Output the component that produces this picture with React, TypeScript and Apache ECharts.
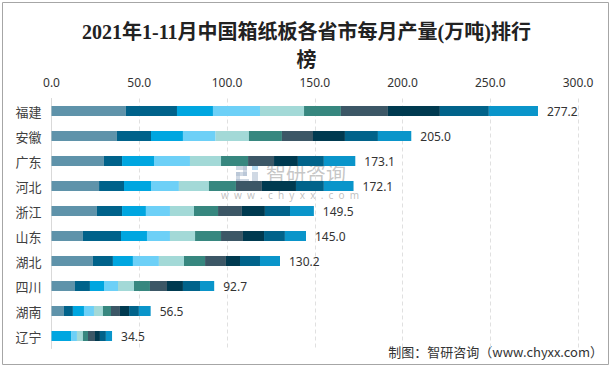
import React, { useEffect, useRef } from "react";
import * as echarts from "echarts";

const provinces = ["福建", "安徽", "广东", "河北", "浙江", "山东", "湖北", "四川", "湖南", "辽宁"];
const months = ["1-2月", "3月", "4月", "5月", "6月", "7月", "8月", "9月", "10月", "11月"];
const totals = [277.2, 205.0, 173.1, 172.1, 149.5, 145.0, 130.2, 92.7, 56.5, 34.5];

// values[monthIndex][provinceIndex]
const m12 = [42.4, 37.3, 29.9, 27.1, 25.9, 17.9, 23.6, 13.4, 7.1, 0];
const m3 = [29.1, 19.4, 10.3, 14.2, 14.3, 21.7, 11.4, 8.5, 5.1, 0];
const m4 = [20.5, 18.2, 18.2, 15.4, 13.6, 14.8, 11.4, 8.0, 6.3, 11.4];
const m5 = [26.8, 18.6, 20.5, 15.9, 13.7, 13.1, 14.8, 8.0, 5.7, 3.1];
const m6 = [25.1, 19.0, 17.7, 17.1, 13.7, 14.3, 14.3, 9.1, 5.1, 3.4];
const m7 = [21.0, 18.8, 15.4, 15.4, 13.7, 14.8, 12.0, 9.1, 4.6, 2.9];
const m8 = [26.8, 17.7, 14.8, 14.8, 13.6, 12.5, 11.9, 9.7, 5.1, 4.0];
const m9 = [29.6, 18.2, 13.6, 19.4, 13.1, 12.0, 8.0, 9.1, 5.2, 2.8];
const m10 = [27.9, 18.8, 14.8, 15.9, 14.3, 11.9, 11.4, 9.7, 5.6, 3.4];
const m11 = [28.0, 19.0, 17.9, 16.9, 13.6, 12.0, 11.4, 8.1, 6.7, 3.5];
const monthValues = [m12, m3, m4, m5, m6, m7, m8, m9, m10, m11];

const xTicks = [0, 50, 100, 150, 200, 250, 300];

const colors = [
  "#5F93AA",
  "#00628A",
  "#00A6E0",
  "#6DD0F7",
  "#A3D9D7",
  "#37877F",
  "#3C5766",
  "#003A50",
  "#01638A",
  "#0A95CA",
];

export default function App() {
  const ref = useRef<HTMLDivElement>(null);

  useEffect(() => {
    if (!ref.current) return;
    document.body.style.margin = "0";
    const chart = echarts.init(ref.current, null, { renderer: "svg" });
    const last = monthValues.length - 1;
    const series = monthValues.map((vals, i) => ({
      name: months[i],
      type: "bar",
      stack: "total",
      barWidth: 10,
      data: vals,
      itemStyle: { color: colors[i] },
      label:
        i === last
          ? {
              show: true,
              position: "right",
              distance: 9,
              color: "#333333",
              fontSize: 12,
              fontFamily: "'Noto Sans', 'Noto Sans CJK SC', sans-serif",
              formatter: (p: any) => totals[p.dataIndex].toFixed(1),
            }
          : { show: false },
    }));

    chart.setOption({
      animation: false,
      backgroundColor: "#ffffff",
      title: {
        text: "2021年1-11月中国箱纸板各省市每月产量(万吨)排行\n榜",
        left: "center",
        top: 13,
        textStyle: {
          fontSize: 20,
          fontWeight: "bold",
          color: "#222222",
          lineHeight: 28,
          fontFamily: "'Liberation Serif', 'Noto Sans CJK SC', serif",
        },
      },
      grid: { left: 51.5, right: 35, top: 98.5, bottom: 19.5, containLabel: false },
      xAxis: {
        type: "value",
        position: "top",
        min: xTicks[0],
        max: xTicks[xTicks.length - 1],
        interval: 50,
        axisLine: { show: false },
        axisTick: { show: false },
        axisLabel: {
          color: "#333333",
          fontSize: 12,
          margin: 10,
          fontFamily: "'Noto Sans', sans-serif",
          formatter: (v: number) => v.toFixed(1),
        },
        splitLine: { show: true, lineStyle: { color: "#e0e0e0", type: [4, 3], width: 1 } },
      },
      yAxis: {
        type: "category",
        data: provinces,
        inverse: true,
        axisLine: { show: true, lineStyle: { color: "#d9d9d9" } },
        axisTick: { show: false },
        axisLabel: {
          color: "#404040",
          fontSize: 13,
          margin: 10,
          fontFamily: "'Noto Sans CJK SC', sans-serif",
        },
      },
      series,
      graphic: [
        {
          type: "rect",
          shape: { x: 2.5, y: 2.5, width: 606, height: 362 },
          style: { fill: "none", stroke: "#a6a6a6", lineWidth: 1 },
          silent: true,
        },
        {
          type: "group",
          z: 100,
          silent: true,
          children: [
            { type: "rect", shape: { x: 236, y: 166, width: 11, height: 4 }, style: { fill: "rgba(170,185,205,0.55)" } },
            { type: "rect", shape: { x: 243, y: 166, width: 4, height: 10 }, style: { fill: "rgba(170,185,205,0.55)" } },
            { type: "rect", shape: { x: 236, y: 172, width: 11, height: 4 }, style: { fill: "rgba(170,185,205,0.55)" } },
            { type: "rect", shape: { x: 236, y: 172, width: 4, height: 10 }, style: { fill: "rgba(170,185,205,0.55)" } },
            { type: "rect", shape: { x: 236, y: 179, width: 13, height: 3 }, style: { fill: "rgba(170,185,205,0.55)" } },
            { type: "rect", shape: { x: 252, y: 166, width: 6, height: 4 }, style: { fill: "rgba(120,190,230,0.55)" } },
            { type: "rect", shape: { x: 252, y: 172, width: 6, height: 10 }, style: { fill: "rgba(170,185,205,0.55)" } },
            {
              type: "text",
              x: 266,
              y: 172,
              style: {
                text: "智研咨询",
                fontSize: 20,
                lineHeight: 20,
                fill: "rgba(150,150,150,0.55)",
                fontFamily: "'Noto Sans CJK SC', sans-serif",
                verticalAlign: "middle",
                align: "left",
              },
            },
            {
              type: "text",
              x: 290,
              y: 195,
              style: {
                text: "w  w  w  .  c  h  y  x  x  .  c  o  m",
                fontSize: 10,
                lineHeight: 10,
                fill: "rgba(150,150,150,0.6)",
                fontFamily: "'Noto Sans', sans-serif",
                verticalAlign: "middle",
                align: "center",
              },
            },
          ],
        },
        {
          type: "text",
          right: 10,
          top: 345,
          style: {
            text: "制图：智研咨询（www.chyxx.com）",
            fontSize: 13,
            fill: "#333333",
            fontFamily: "'Noto Sans CJK SC', sans-serif",
          },
          silent: true,
        },
      ],
    });
    return () => chart.dispose();
  }, []);

  return <div ref={ref} style={{ width: 613, height: 368 }} />;
}
